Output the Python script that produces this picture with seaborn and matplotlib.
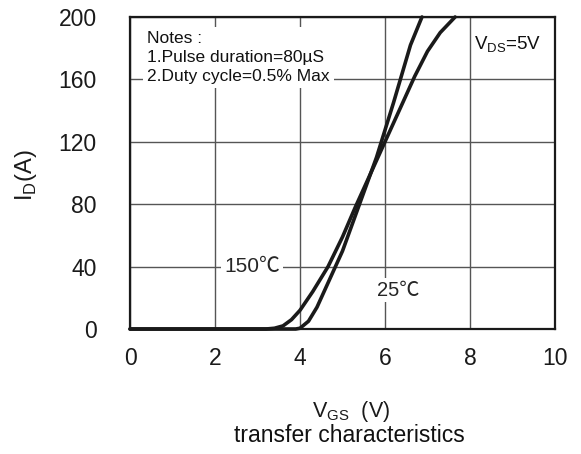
import numpy as np
import pandas as pd
import seaborn as sns
from matplotlib import pyplot as plt

vgs_25 = [0, 3.9, 4.0, 4.2, 4.4, 4.6, 4.8, 5.0, 5.4, 5.8, 6.2, 6.6, 6.87]
id_25 = [0, 0, 0.5, 5, 14, 26, 38, 50, 80, 110, 145, 182, 200]

vgs_150 = [0, 3.2, 3.4, 3.6, 3.8, 4.0, 4.3, 4.66, 5.0, 5.3, 5.65, 6.0, 6.35, 6.7, 7.0, 7.3, 7.65]
id_150 = [0, 0, 0.5, 2, 6, 12, 24, 40, 59, 78, 99, 120, 141, 162, 178, 190, 200]

x_ticks = [0, 2, 4, 6, 8, 10]
y_ticks = [0, 40, 80, 120, 160, 200]

df = pd.concat([
    pd.DataFrame({"Vgs": vgs_25, "Id": id_25, "T": "25"}),
    pd.DataFrame({"Vgs": vgs_150, "Id": id_150, "T": "150"}),
])

sns.set_theme(style="white")
plt.rcParams["font.family"] = ["Liberation Sans", "Noto Sans CJK SC", "DejaVu Sans"]
plt.rcParams["mathtext.fontset"] = "custom"
plt.rcParams["mathtext.rm"] = "Liberation Sans"

fig = plt.figure(figsize=(5.81, 4.54), dpi=100)
ax = fig.add_axes([0.2238, 0.2753, 0.7314, 0.6873])

ax.grid(True, color="#555555", linewidth=1.0)
ax.set_axisbelow(True)

sns.lineplot(data=df, x="Vgs", y="Id", units="T", estimator=None, sort=False,
             color="#1a1a1a", linewidth=2.6, ax=ax, clip_on=False, zorder=3)

ax.set_xlim(0, 10)
ax.set_ylim(0, 200)
ax.set_xticks(x_ticks)
ax.set_yticks(y_ticks)
ax.tick_params(length=0, labelsize=16.5, colors="#1a1a1a")
ax.tick_params(axis="x", pad=13)
ax.tick_params(axis="y", pad=24)
ax.set_xlabel("")
ax.set_ylabel("")
for s in ax.spines.values():
    s.set_color("#1a1a1a")
    s.set_linewidth(1.6)

ax.text(0.4, 191, "Notes :\n1.Pulse duration=80\u00b5S\n2.Duty cycle=0.5% Max",
        fontsize=12.5, va="top", ha="left", linespacing=1.32, color="#111111",
        bbox=dict(facecolor="white", edgecolor="none", pad=3), zorder=4)
ax.text(8.1, 182, r"V$_{\mathregular{DS}}$=5V", fontsize=13.5, color="#111111",
        va="center", ha="left", zorder=4)
ax.text(2.87, 40, "150\u2103", fontsize=15, ha="center", va="center",
        bbox=dict(facecolor="white", edgecolor="none", pad=2), zorder=4)
ax.text(6.3, 25, "25\u2103", fontsize=14.5, ha="center", va="center",
        bbox=dict(facecolor="white", edgecolor="none", pad=2), zorder=4)

fig.text(0.045, 0.615, r"I$_{\mathregular{D}}$(A)", rotation=90, fontsize=17,
         ha="center", va="center", color="#1a1a1a")
fig.text(0.605, 0.094, r"V$_{\mathregular{GS}}$  (V)", fontsize=15.5,
         ha="center", va="center", color="#1a1a1a")
fig.text(0.602, 0.040, "transfer characteristics", fontsize=16.5,
         ha="center", va="center", color="#111111")

fig.savefig("out.png", dpi=100)
